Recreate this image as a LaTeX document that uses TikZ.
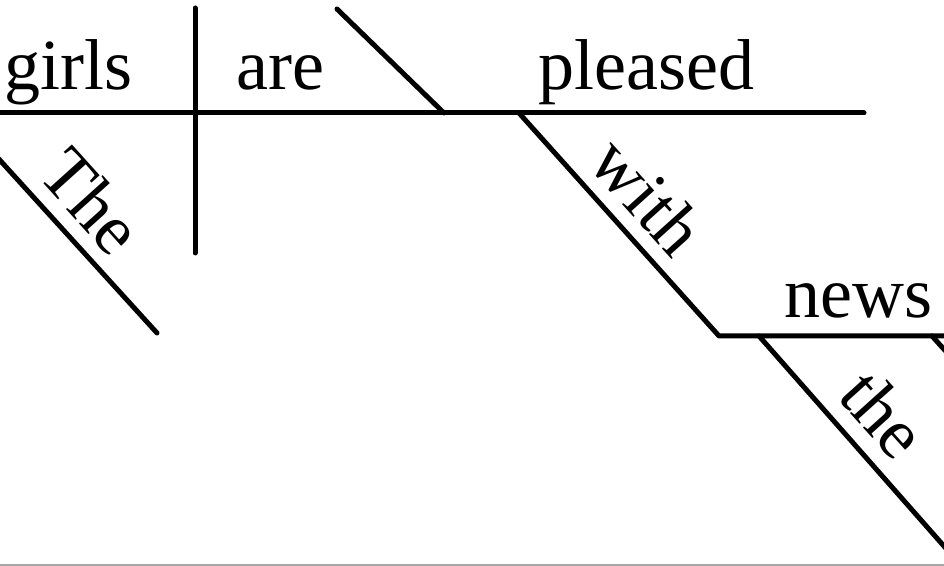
\documentclass[tikz,border=0pt]{standalone}
\usepackage{fontspec}
\setmainfont{Liberation Serif}
\begin{document}
\begin{tikzpicture}[x=0.5pt,y=-0.5pt,
  ln/.style={line width=2.5pt, line cap=round, line join=round},
  word/.style={font=\fontsize{36pt}{40pt}\selectfont, inner sep=0pt},
  slant/.style={word, rotate=-48}]
\useasboundingbox (0,0) rectangle (944,566);
\clip (0,0) rectangle (944,566);
% coordinates
\coordinate (mL) at (-20,113);
\coordinate (mR) at (864,113);
\coordinate (vT) at (195,8);
\coordinate (vB) at (195,253);
\coordinate (pT) at (337,9);
\coordinate (pB) at (444,113);
\coordinate (tT) at (-43,113);
\coordinate (tB) at (157,333);
\coordinate (wT) at (519,113);
\coordinate (wB) at (719,336);
\coordinate (nR) at (960,336);
\coordinate (hT) at (759,336);
\coordinate (hB) at (950,553);
\coordinate (xT) at (932,336);
\coordinate (xB) at (960,367);
% lines
\draw[ln] (mL) -- (mR);
\draw[ln] (vT) -- (vB);
\draw[ln] (pT) -- (pB);
\draw[ln] (tT) -- (tB);
\draw[ln] (wT) -- (wB) -- (nR);
\draw[ln] (hT) -- (hB);
\draw[ln] (xT) -- (xB);
% words
\node[word, anchor=base west] (girls) at (4,90) {girls};
\node[word, anchor=base west] (are) at (236,90) {are};
\node[word, anchor=base west] (pleased) at (538,90) {pleased};
\node[word, anchor=base west] (news) at (784,318) {news};
\node[slant] (The) at (92,201) {The};
\node[slant] (with) at (648,196) {with};
\node[slant] (the) at (884,414) {the};
% bottom border
\draw[gray!70, line width=1pt] (0,565) -- (944,565);
\end{tikzpicture}
\end{document}
